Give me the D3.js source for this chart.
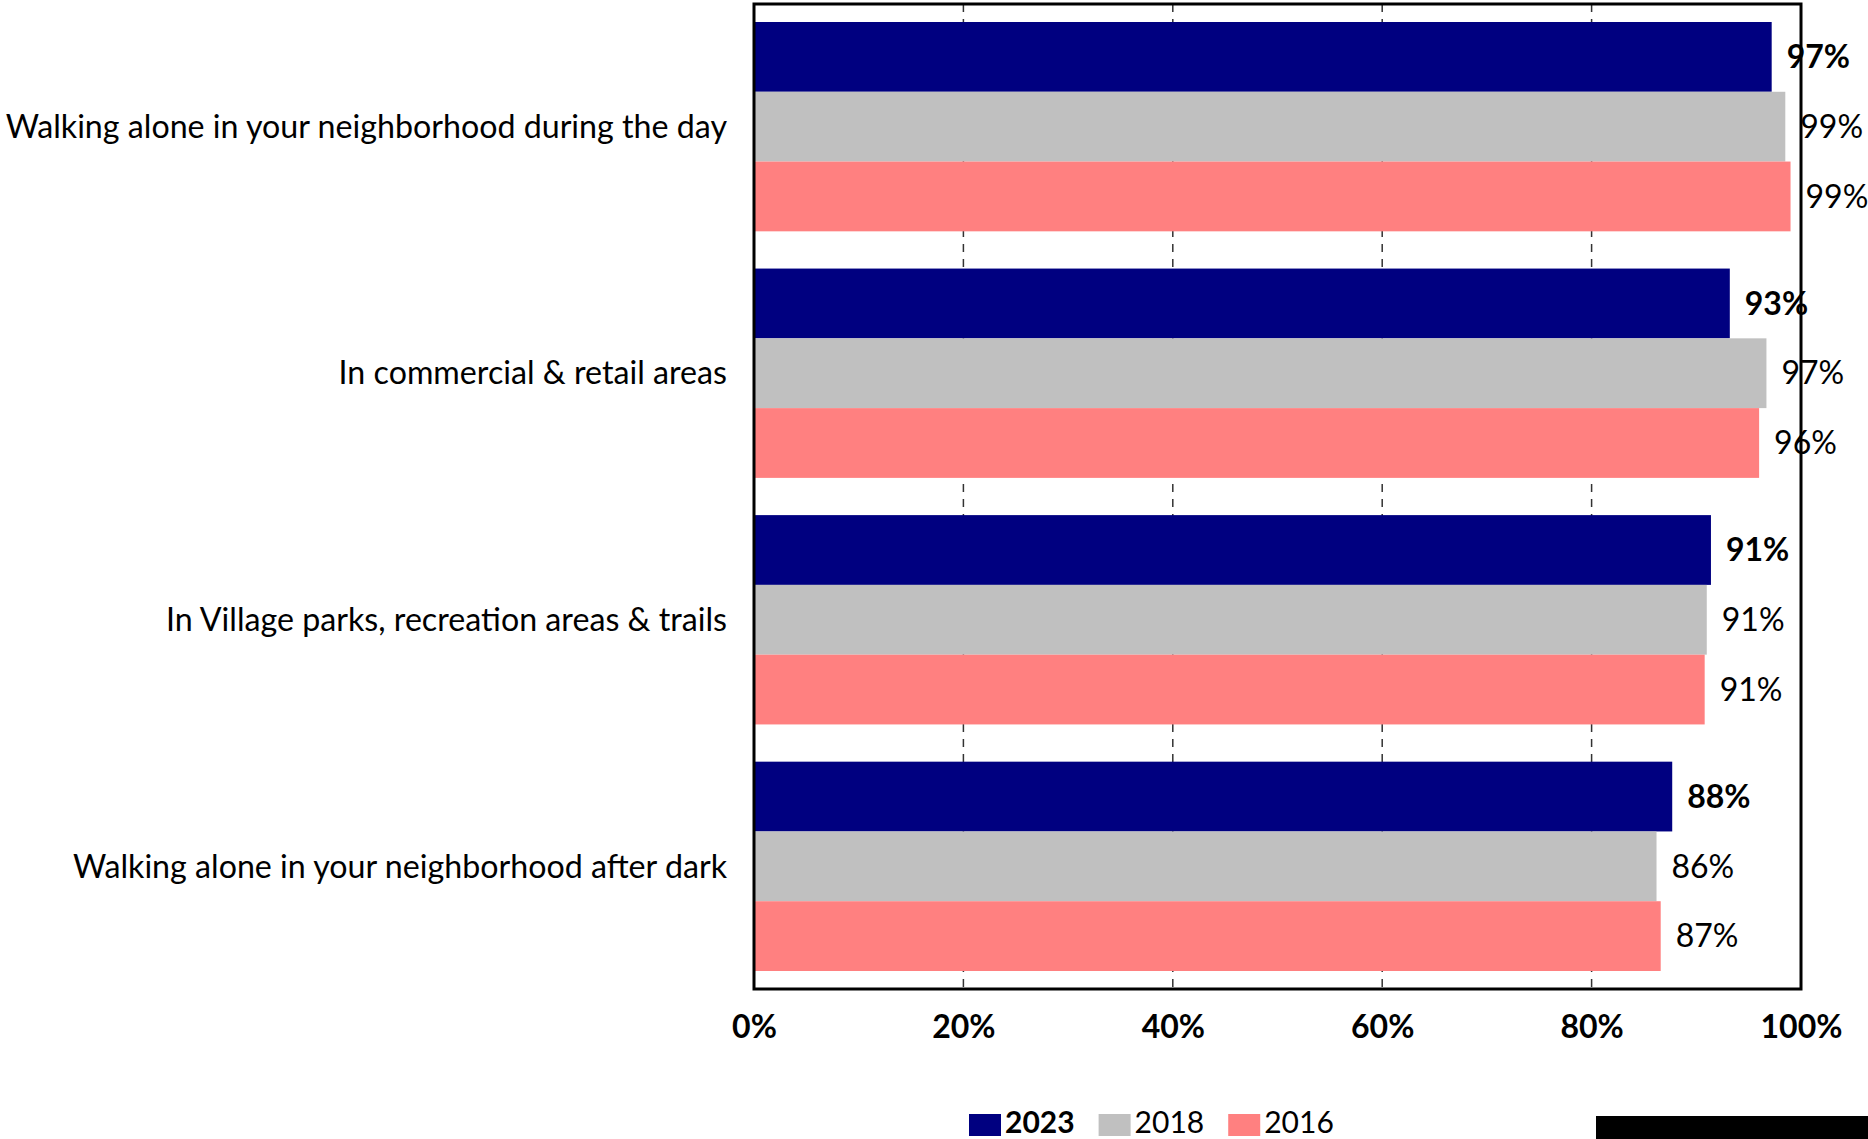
<!DOCTYPE html>
<html>
<head>
<meta charset="utf-8">
<script src="https://cdn.jsdelivr.net/npm/d3@7"></script>
<style>
  html, body { margin: 0; padding: 0; background: #fff; }
  svg { display: block; font-family: Lato, "Open Sans", sans-serif; }
</style>
</head>
<body>
<svg id="chart" width="1868" height="1139"></svg>
<script>
// survey items, top to bottom
const categories = [
  'Walking alone in your neighborhood during the day',
  'In commercial & retail areas',
  'In Village parks, recreation areas & trails',
  'Walking alone in your neighborhood after dark'
];
const years = ['2023', '2018', '2016'];
const values2023 = [97.2, 93.2, 91.4, 87.7];
const values2018 = [98.5, 96.7, 91.0, 86.2];
const values2016 = [99.0, 96.0, 90.8, 86.6];
const xTicks = [0, 20, 40, 60, 80, 100];
const colors = ['#000080', '#c0c0c0', '#ff8080'];

const series = [values2023, values2018, values2016];

const W = 1868, H = 1139;
const plot = { left: 754, right: 1801, top: 4, bottom: 989 };

const svg = d3.select('#chart');

const x = d3.scaleLinear().domain([0, 100]).range([plot.left, plot.right]);
const y = d3.scaleBand().domain(categories)
  .range([plot.top, plot.bottom])
  .paddingInner(0.151)
  .paddingOuter(0.073);
const yInner = d3.scaleBand().domain(years).range([0, y.bandwidth()]);
const color = d3.scaleOrdinal().domain(years).range(colors);

// dashed gridlines (behind bars)
svg.append('g')
  .selectAll('line')
  .data(xTicks.filter((t) => t > 0 && t < 100))
  .join('line')
  .attr('x1', (d) => x(d)).attr('x2', (d) => x(d))
  .attr('y1', plot.top).attr('y2', plot.bottom)
  .attr('stroke', '#333')
  .attr('stroke-width', 1.5)
  .attr('stroke-dasharray', '8,7');

// bars
const rows = categories.map((c, i) => ({
  cat: c,
  vals: years.map((yr, j) => ({ year: yr, v: series[j][i] }))
}));

const groups = svg.append('g')
  .selectAll('g')
  .data(rows)
  .join('g')
  .attr('transform', (d) => `translate(0,${y(d.cat)})`);

groups.selectAll('rect')
  .data((d) => d.vals)
  .join('rect')
  .attr('x', x(0))
  .attr('y', (d) => yInner(d.year))
  .attr('width', (d) => x(d.v) - x(0))
  .attr('height', yInner.bandwidth())
  .attr('fill', (d) => color(d.year));

// frame
svg.append('rect')
  .attr('x', plot.left).attr('y', plot.top)
  .attr('width', plot.right - plot.left)
  .attr('height', plot.bottom - plot.top)
  .attr('fill', 'none')
  .attr('stroke', '#000')
  .attr('stroke-width', 3);

// value labels (drawn over the frame)
groups.selectAll('text')
  .data((d) => d.vals)
  .join('text')
  .attr('x', (d) => x(d.v) + 15)
  .attr('y', (d) => yInner(d.year) + yInner.bandwidth() / 2)
  .attr('dy', '0.35em')
  .attr('font-size', 32)
  .attr('font-weight', (d) => (d.year === '2023' ? 700 : 400))
  .attr('fill', '#000')
  .text((d) => `${Math.round(d.v)}%`);

// category labels
svg.append('g')
  .selectAll('text')
  .data(categories)
  .join('text')
  .attr('x', 727)
  .attr('y', (d) => y(d) + y.bandwidth() / 2)
  .attr('dy', '0.35em')
  .attr('text-anchor', 'end')
  .attr('font-size', 32.2)
  .attr('fill', '#000')
  .text((d) => d);

// x axis tick labels
const xAxis = svg.append('g')
  .attr('transform', `translate(0,${plot.bottom})`)
  .call(d3.axisBottom(x).tickValues(xTicks).tickSize(0).tickPadding(26)
    .tickFormat((d) => `${d}%`));
xAxis.select('.domain').remove();
xAxis.selectAll('text')
  .attr('font-family', 'Lato, "Open Sans", sans-serif')
  .attr('font-size', 32)
  .attr('font-weight', 700)
  .attr('fill', '#000');

// legend
const legend = svg.append('g').attr('transform', 'translate(969,1114)');
let lx = 0;
years.forEach((yr, i) => {
  legend.append('rect')
    .attr('x', lx).attr('y', 0)
    .attr('width', 32).attr('height', 22)
    .attr('fill', color(yr));
  const t = legend.append('text')
    .attr('x', lx + 36)
    .attr('y', 18.5)
    .attr('font-size', 30)
    .attr('font-weight', i === 0 ? 700 : 400)
    .attr('fill', '#000')
    .text(yr);
  lx += 36 + t.node().getComputedTextLength() + 24;
});

// black strip at the lower right
svg.append('rect')
  .attr('x', 1596).attr('y', 1116)
  .attr('width', W - 1596).attr('height', H - 1116)
  .attr('fill', '#000');
</script>
</body>
</html>
